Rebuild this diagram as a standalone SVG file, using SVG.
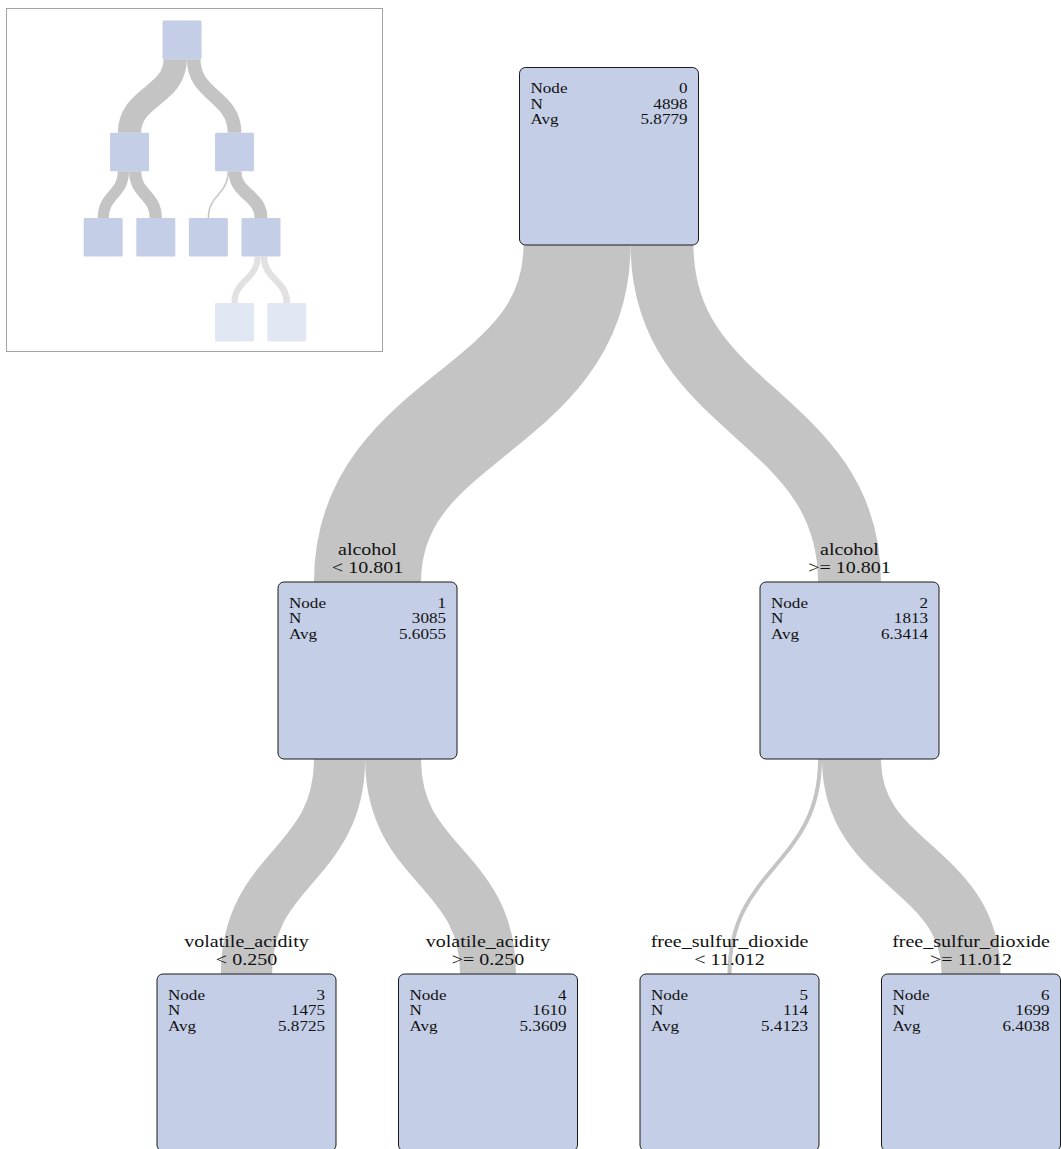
<svg xmlns="http://www.w3.org/2000/svg" width="1061" height="1149" viewBox="0 0 1061 1149">
<style>
.lk{fill:none;stroke:#c4c4c4;stroke-linecap:butt}
.lk2{fill:none;stroke:#e1e1e1;stroke-linecap:butt}
.nd{fill:#c4cee6;stroke:#1a1a1a;stroke-width:1}
.mn{fill:#c4cee6}
.mn2{fill:#e1e7f3}
text{font-family:"Liberation Serif","Times New Roman",serif;fill:#111}
.nt{font-size:14px}
.lb{font-size:16px;text-anchor:middle}
.r{text-anchor:end}
</style>
<rect width="1061" height="1149" fill="#ffffff"/>

<g id="minimap">
<rect x="6.5" y="8.5" width="376" height="343" fill="#ffffff" stroke="#a0a4aa" stroke-width="1"/>
<g transform="translate(49.5,5.9) scale(0.2178)">
<path class="lk" stroke-width="107.05" d="M577.04,245 C577.04,413.5 367.5,413.5 367.5,582"/>
<path class="lk" stroke-width="62.91" d="M662.03,245 C662.03,413.5 849.5,413.5 849.5,582"/>
<path class="lk" stroke-width="51.18" d="M339.57,759 C339.57,866.5 246.5,866.5 246.5,974"/>
<path class="lk" stroke-width="55.87" d="M393.09,759 C393.09,866.5 488,866.5 488,974"/>
<path class="lk" stroke-width="7" d="M820.02,759 C820.02,866.5 729.5,866.5 729.5,974"/>
<path class="lk" stroke-width="58.96" d="M851.48,759 C851.48,866.5 971,866.5 971,974"/>
<path class="lk2" stroke-width="28.42" d="M955.73,1151 C955.73,1257.5 849.5,1257.5 849.5,1364"/>
<path class="lk2" stroke-width="30.54" d="M985.21,1151 C985.21,1257.5 1089.5,1257.5 1089.5,1364"/>
<rect class="mn" x="519" y="67.5" width="179" height="177.5" rx="6"/>
<rect class="mn" x="278" y="582" width="179" height="177" rx="6"/>
<rect class="mn" x="760" y="582" width="179" height="177" rx="6"/>
<rect class="mn" x="157" y="974" width="179" height="177" rx="6"/>
<rect class="mn" x="398.5" y="974" width="179" height="177" rx="6"/>
<rect class="mn" x="640" y="974" width="179" height="177" rx="6"/>
<rect class="mn" x="881.5" y="974" width="179" height="177" rx="6"/>
<rect class="mn2" x="760" y="1364" width="179" height="177" rx="6"/>
<rect class="mn2" x="1000" y="1364" width="179" height="177" rx="6"/>
</g>
</g>

<g id="connectors">
<path class="lk" stroke-width="107.05" d="M577.04,245 C577.04,413.5 367.5,413.5 367.5,582"/>
<path class="lk" stroke-width="62.91" d="M662.03,245 C662.03,413.5 849.5,413.5 849.5,582"/>
<path class="lk" stroke-width="51.18" d="M339.57,759 C339.57,866.5 246.5,866.5 246.5,974"/>
<path class="lk" stroke-width="55.87" d="M393.09,759 C393.09,866.5 488,866.5 488,974"/>
<path class="lk" stroke-width="3.96" d="M820.02,759 C820.02,866.5 729.5,866.5 729.5,974"/>
<path class="lk" stroke-width="58.96" d="M851.48,759 C851.48,866.5 971,866.5 971,974"/>
<g id="edge-labels">
<text class="lb" transform="translate(367.5,555) scale(1.25,1)">alcohol</text>
<text class="lb" transform="translate(367.5,573) scale(1.25,1)">&lt; 10.801</text>
<text class="lb" transform="translate(849.5,555) scale(1.25,1)">alcohol</text>
<text class="lb" transform="translate(849.5,573) scale(1.25,1)">&gt;= 10.801</text>
<text class="lb" transform="translate(246.5,947) scale(1.25,1)">volatile_acidity</text>
<text class="lb" transform="translate(246.5,965) scale(1.25,1)">&lt; 0.250</text>
<text class="lb" transform="translate(488,947) scale(1.25,1)">volatile_acidity</text>
<text class="lb" transform="translate(488,965) scale(1.25,1)">&gt;= 0.250</text>
<text class="lb" transform="translate(729.5,947) scale(1.25,1)">free_sulfur_dioxide</text>
<text class="lb" transform="translate(729.5,965) scale(1.25,1)">&lt; 11.012</text>
<text class="lb" transform="translate(971,947) scale(1.25,1)">free_sulfur_dioxide</text>
<text class="lb" transform="translate(971,965) scale(1.25,1)">&gt;= 11.012</text>
</g>
</g>

<g id="node0">
<rect class="nd" x="519.5" y="67.5" width="179" height="177.5" rx="6"/>
<text class="nt" transform="translate(530.5,93) scale(1.22,1)">Node</text>
<text class="nt" transform="translate(530.5,108.5) scale(1.22,1)">N</text>
<text class="nt" transform="translate(530.5,124) scale(1.22,1)">Avg</text>
<text class="nt r" transform="translate(687.5,93) scale(1.22,1)">0</text>
<text class="nt r" transform="translate(687.5,108.5) scale(1.22,1)">4898</text>
<text class="nt r" transform="translate(687.5,124) scale(1.22,1)">5.8779</text>
</g>
<g id="node1">
<rect class="nd" x="278" y="582" width="179" height="177" rx="6"/>
<text class="nt" transform="translate(289,607.5) scale(1.22,1)">Node</text>
<text class="nt" transform="translate(289,623) scale(1.22,1)">N</text>
<text class="nt" transform="translate(289,638.5) scale(1.22,1)">Avg</text>
<text class="nt r" transform="translate(446,607.5) scale(1.22,1)">1</text>
<text class="nt r" transform="translate(446,623) scale(1.22,1)">3085</text>
<text class="nt r" transform="translate(446,638.5) scale(1.22,1)">5.6055</text>
</g>
<g id="node2">
<rect class="nd" x="760" y="582" width="179" height="177" rx="6"/>
<text class="nt" transform="translate(771,607.5) scale(1.22,1)">Node</text>
<text class="nt" transform="translate(771,623) scale(1.22,1)">N</text>
<text class="nt" transform="translate(771,638.5) scale(1.22,1)">Avg</text>
<text class="nt r" transform="translate(928,607.5) scale(1.22,1)">2</text>
<text class="nt r" transform="translate(928,623) scale(1.22,1)">1813</text>
<text class="nt r" transform="translate(928,638.5) scale(1.22,1)">6.3414</text>
</g>
<g id="node3">
<rect class="nd" x="157" y="974" width="179" height="177" rx="6"/>
<text class="nt" transform="translate(168,999.5) scale(1.22,1)">Node</text>
<text class="nt" transform="translate(168,1015) scale(1.22,1)">N</text>
<text class="nt" transform="translate(168,1030.5) scale(1.22,1)">Avg</text>
<text class="nt r" transform="translate(325,999.5) scale(1.22,1)">3</text>
<text class="nt r" transform="translate(325,1015) scale(1.22,1)">1475</text>
<text class="nt r" transform="translate(325,1030.5) scale(1.22,1)">5.8725</text>
</g>
<g id="node4">
<rect class="nd" x="398.5" y="974" width="179" height="177" rx="6"/>
<text class="nt" transform="translate(409.5,999.5) scale(1.22,1)">Node</text>
<text class="nt" transform="translate(409.5,1015) scale(1.22,1)">N</text>
<text class="nt" transform="translate(409.5,1030.5) scale(1.22,1)">Avg</text>
<text class="nt r" transform="translate(566.5,999.5) scale(1.22,1)">4</text>
<text class="nt r" transform="translate(566.5,1015) scale(1.22,1)">1610</text>
<text class="nt r" transform="translate(566.5,1030.5) scale(1.22,1)">5.3609</text>
</g>
<g id="node5">
<rect class="nd" x="640" y="974" width="179" height="177" rx="6"/>
<text class="nt" transform="translate(651,999.5) scale(1.22,1)">Node</text>
<text class="nt" transform="translate(651,1015) scale(1.22,1)">N</text>
<text class="nt" transform="translate(651,1030.5) scale(1.22,1)">Avg</text>
<text class="nt r" transform="translate(808,999.5) scale(1.22,1)">5</text>
<text class="nt r" transform="translate(808,1015) scale(1.22,1)">114</text>
<text class="nt r" transform="translate(808,1030.5) scale(1.22,1)">5.4123</text>
</g>
<g id="node6">
<rect class="nd" x="881.5" y="974" width="179" height="177" rx="6"/>
<text class="nt" transform="translate(892.5,999.5) scale(1.22,1)">Node</text>
<text class="nt" transform="translate(892.5,1015) scale(1.22,1)">N</text>
<text class="nt" transform="translate(892.5,1030.5) scale(1.22,1)">Avg</text>
<text class="nt r" transform="translate(1049.5,999.5) scale(1.22,1)">6</text>
<text class="nt r" transform="translate(1049.5,1015) scale(1.22,1)">1699</text>
<text class="nt r" transform="translate(1049.5,1030.5) scale(1.22,1)">6.4038</text>
</g>
</svg>
